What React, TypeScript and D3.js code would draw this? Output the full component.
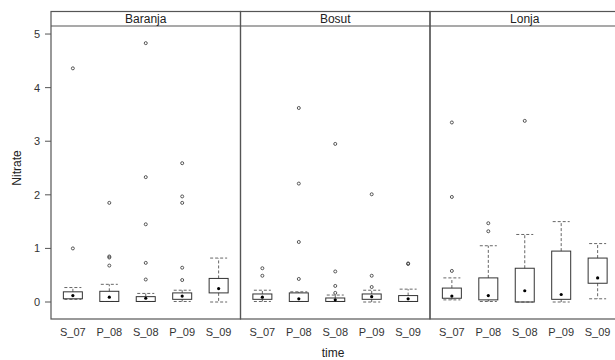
import React from "react";
import * as d3 from "d3";

const panels = ["Baranja", "Bosut", "Lonja"];
const times = ["S_07", "P_08", "S_08", "P_09", "S_09"];
const yTicks = [0, 1, 2, 3, 4, 5];

// [lowerWhisker, q1, median, q3, upperWhisker] per time
const baranjaStats = [
  [0.05, 0.06, 0.12, 0.19, 0.27],
  [0.01, 0.01, 0.09, 0.2, 0.33],
  [0.01, 0.01, 0.07, 0.1, 0.16],
  [0.01, 0.05, 0.11, 0.17, 0.22],
  [0.0, 0.17, 0.25, 0.44, 0.82],
];
const bosutStats = [
  [0.01, 0.05, 0.09, 0.15, 0.22],
  [0.01, 0.01, 0.06, 0.17, 0.19],
  [0.01, 0.01, 0.04, 0.075, 0.13],
  [0.0, 0.05, 0.1, 0.15, 0.22],
  [0.01, 0.01, 0.06, 0.12, 0.24],
];
const lonjaStats = [
  [0.04, 0.07, 0.11, 0.26, 0.45],
  [0.01, 0.04, 0.12, 0.45, 1.05],
  [0.0, 0.0, 0.21, 0.63, 1.26],
  [0.0, 0.05, 0.14, 0.95, 1.5],
  [0.06, 0.35, 0.45, 0.82, 1.09],
];

const baranjaOutliers = [
  [4.36, 1.0],
  [1.85, 0.85, 0.83, 0.68],
  [4.83, 2.33, 1.45, 0.73, 0.42],
  [2.59, 1.97, 1.85, 0.64, 0.41],
  [],
];
const bosutOutliers = [
  [0.63, 0.49],
  [3.62, 2.21, 1.12, 0.43],
  [2.95, 0.57, 0.3, 0.17],
  [2.01, 0.49, 0.28],
  [0.71, 0.72],
];
const lonjaOutliers = [
  [3.35, 1.96, 0.58],
  [1.47, 1.32],
  [3.38],
  [],
  [],
];

const statsByPanel = [baranjaStats, bosutStats, lonjaStats];
const outliersByPanel = [baranjaOutliers, bosutOutliers, lonjaOutliers];

export default function App() {
  const W = 615;
  const H = 360;
  const left = 51;
  const panelW = 189.5;
  const stripTop = 11.5;
  const stripBottom = 26;
  const bottom = 319;
  const y = d3.scaleLinear().domain([-0.317, 5.15]).range([bottom, stripBottom]);
  const font = "Liberation Sans, Arial, sans-serif";
  const boxW = 19;
  const capW = 17;
  const frame = "#555";
  const boxCol = "#333";
  const whCol = "#666";

  return (
    <svg
      width={W}
      height={H}
      style={{ position: "absolute", left: 0, top: 0, background: "#fff" }}
      fontFamily={font}
    >
      <rect x={0} y={0} width={W} height={H} fill="#fff" />
      {/* y axis ticks */}
      {yTicks.map((t) => (
        <g key={t}>
          <line x1={45} x2={left} y1={y(t)} y2={y(t)} stroke={frame} strokeWidth={1} />
          <text x={40} y={y(t) + 4} textAnchor="end" fontSize={11} fill="#333">
            {t}
          </text>
        </g>
      ))}
      {panels.map((p, pi) => {
        const x0 = left + pi * panelW;
        const x = d3.scaleLinear().domain([0.4, 5.6]).range([x0, x0 + panelW]);
        const stats = statsByPanel[pi];
        const outs = outliersByPanel[pi];
        return (
          <g key={p}>
            {/* panel frame */}
            <rect
              x={x0}
              y={stripTop}
              width={panelW}
              height={bottom - stripTop}
              fill="none"
              stroke={frame}
              strokeWidth={1.2}
            />
            <line x1={x0} x2={x0 + panelW} y1={stripBottom} y2={stripBottom} stroke={frame} strokeWidth={1.2} />
            <text x={x0 + panelW / 2} y={23} textAnchor="middle" fontSize={12} fill="#222">
              {p}
            </text>
            {times.map((t, i) => {
              const cx = x(i + 1);
              const [lo, q1, med, q3, hi] = stats[i];
              return (
                <g key={t}>
                  {/* whiskers */}
                  <line x1={cx} x2={cx} y1={y(q3)} y2={y(hi)} stroke={whCol} strokeDasharray="3,2" />
                  <line x1={cx} x2={cx} y1={y(q1)} y2={y(lo)} stroke={whCol} strokeDasharray="3,2" />
                  <line x1={cx - capW / 2} x2={cx + capW / 2} y1={y(hi)} y2={y(hi)} stroke={whCol} strokeDasharray="3,2" />
                  <line x1={cx - capW / 2} x2={cx + capW / 2} y1={y(lo)} y2={y(lo)} stroke={whCol} strokeDasharray="3,2" />
                  {/* box */}
                  <rect
                    x={cx - boxW / 2}
                    y={y(q3)}
                    width={boxW}
                    height={Math.max(0.5, y(q1) - y(q3))}
                    fill="none"
                    stroke={boxCol}
                    strokeWidth={1}
                  />
                  <circle cx={cx} cy={y(med)} r={1.6} fill="#000" />
                  {outs[i].map((v, k) => (
                    <circle key={k} cx={cx} cy={y(v)} r={1.5} fill="none" stroke="#444" strokeWidth={0.9} />
                  ))}
                  <text x={cx} y={336} textAnchor="middle" fontSize={11} fill="#333">
                    {t}
                  </text>
                </g>
              );
            })}
          </g>
        );
      })}
      <text x={333} y={357} textAnchor="middle" fontSize={12} fill="#222">
        time
      </text>
      <text
        transform={`translate(21,168) rotate(-90)`}
        textAnchor="middle"
        fontSize={12}
        fill="#222"
      >
        Nitrate
      </text>
    </svg>
  );
}
